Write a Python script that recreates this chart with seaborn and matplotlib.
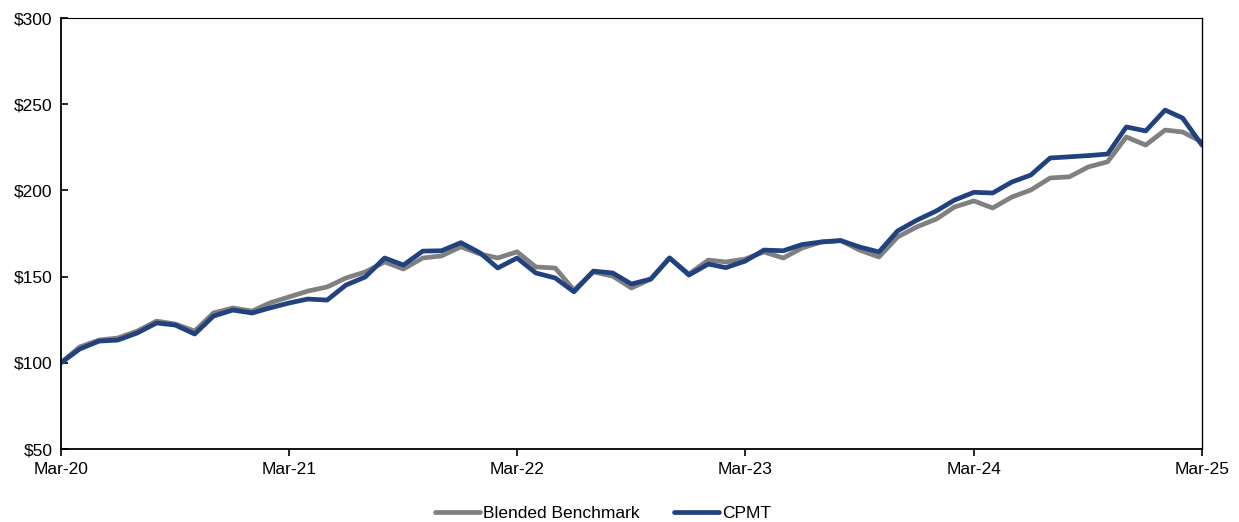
import matplotlib
matplotlib.use("Agg")
import matplotlib.pyplot as plt
import seaborn as sns
import pandas as pd
import numpy as np

# Monthly growth of $100, Mar-20 .. Mar-25
dates = pd.date_range("2020-03-31", "2025-03-31", freq="ME")

benchmark = [100, 109.2, 113.2, 114.4, 118.4, 124.2, 122.5, 118.4, 128.9, 131.8,
             130.0, 134.7, 138.2, 141.6, 144.0, 149.2, 152.7, 158.5, 154.4, 160.8,
             162.0, 167.3, 163.1, 160.8, 164.4, 155.6, 155.0, 142.2, 152.7, 150.3,
             143.4, 148.6, 160.8, 151.5, 159.6, 158.5, 160.2, 164.3, 160.8, 166.6,
             170.1, 170.9, 165.4, 161.4, 173.0, 178.9, 183.4, 190.4, 193.9, 189.8,
             196.2, 200.2, 207.2, 207.9, 213.6, 216.6, 231.0, 226.3, 235.0, 233.9,
             228.1]

cpmt = [100, 108.0, 112.6, 113.2, 117.3, 123.1, 121.9, 116.7, 127.1, 130.6,
        128.9, 131.8, 134.7, 137.0, 136.4, 145.1, 149.8, 160.8, 156.7, 164.8,
        165.0, 169.7, 163.7, 155.0, 160.8, 152.1, 149.2, 141.2, 153.2, 152.1,
        145.7, 148.6, 160.8, 150.9, 157.3, 155.2, 159.0, 165.4, 165.0, 168.6,
        170.1, 170.9, 167.2, 164.3, 176.5, 182.8, 188.1, 194.4, 198.9, 198.5,
        204.9, 208.9, 218.8, 219.5, 220.2, 221.1, 236.8, 234.5, 246.6, 242.0,
        226.3]

series_names = ["Blended Benchmark", "CPMT"]
colors = ["#808080", "#21427F"]
y_ticks = [50, 100, 150, 200, 250, 300]
x_tick_dates = pd.to_datetime(["2020-03-31", "2021-03-31", "2022-03-31",
                               "2023-03-31", "2024-03-31", "2025-03-31"])
x_tick_labels = ["Mar-20", "Mar-21", "Mar-22", "Mar-23", "Mar-24", "Mar-25"]

df = pd.DataFrame({
    "date": np.concatenate([dates, dates]),
    "value": benchmark + cpmt,
    "series": [series_names[0]] * len(benchmark) + [series_names[1]] * len(cpmt),
})

sns.set_theme(style="white")
plt.rcParams["font.family"] = ["Liberation Sans", "DejaVu Sans"]
plt.rcParams["text.color"] = "black"

fig = plt.figure(figsize=(12.39, 5.22), dpi=100)
ax = fig.add_axes([0.0492, 0.1398, 0.9209, 0.8257])

sns.lineplot(data=df, x="date", y="value", hue="series", palette=colors,
             hue_order=series_names, linewidth=3.4, ax=ax, legend=True)
for line in ax.lines:
    line.set_solid_joinstyle("round")
    line.set_solid_capstyle("round")

ax.set_xlim(dates[0], dates[-1])
ax.set_ylim(50, 300)
ax.set_yticks(y_ticks)
ax.set_yticklabels([f"${v}" for v in y_ticks])
ax.set_xticks(x_tick_dates)
ax.set_xticklabels(x_tick_labels)
ax.set_xlabel("")
ax.set_ylabel("")

for side in ["left", "bottom", "right", "top"]:
    ax.spines[side].set_visible(True)
    ax.spines[side].set_color("black")
ax.spines["left"].set_linewidth(1.3)
ax.spines["bottom"].set_linewidth(1.3)
ax.spines["right"].set_linewidth(1.0)
ax.spines["top"].set_linewidth(0.8)

ax.tick_params(axis="y", direction="in", length=5, width=1.2, colors="black",
               labelsize=12.5, pad=6, left=True, right=False)
ax.tick_params(axis="x", direction="out", length=5, width=1.2, colors="black",
               labelsize=12.5, pad=4, bottom=True)

handles, labels = ax.get_legend_handles_labels()
ax.legend(handles, labels, loc="upper center", bbox_to_anchor=(0.475, -0.095),
          ncol=2, frameon=False, fontsize=12.5, handlelength=2.6,
          handletextpad=0.15, columnspacing=2.0, labelcolor="black")

fig.savefig("out.png", dpi=100)
